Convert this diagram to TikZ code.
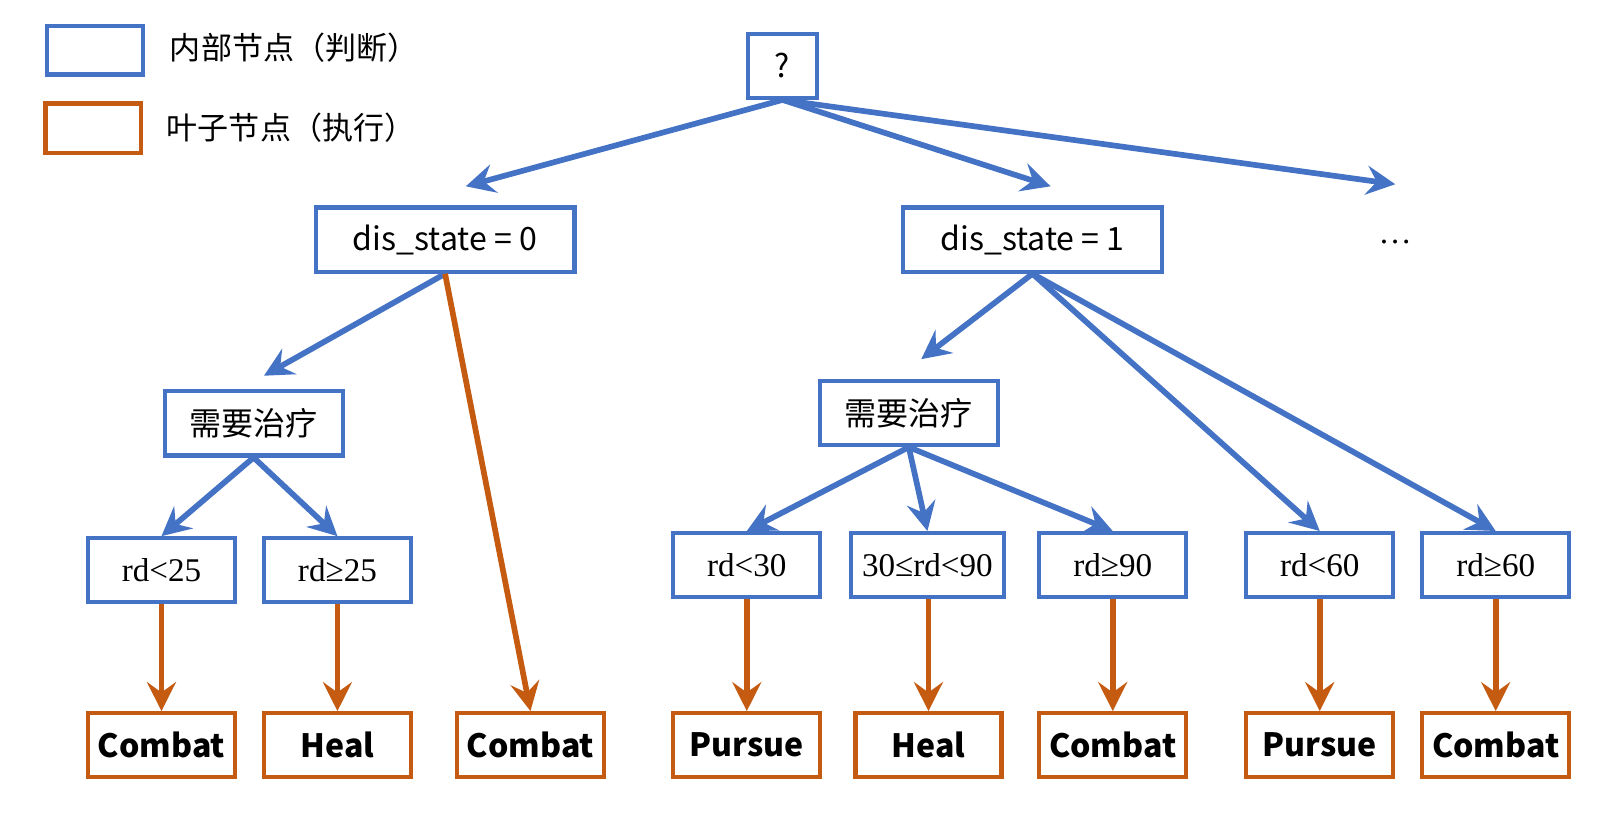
\documentclass[tikz,border=0pt]{standalone}
\usepackage{fontspec}
\setmainfont{Liberation Serif}
\newfontfamily\cjk{Noto Sans CJK SC}
\usetikzlibrary{arrows.meta}
\definecolor{nblue}{HTML}{4472C4}
\definecolor{norange}{HTML}{C55A11}
\begin{document}
\begin{tikzpicture}[x=1pt,y=-1pt,
  innerbox/.style={draw=nblue,line width=4pt,minimum height=62pt,inner sep=0pt},
  leafbox/.style={draw=norange,line width=4pt,minimum width=142pt,minimum height=62pt,inner sep=0pt,font=\cjk\bfseries\fontsize{31}{36}\selectfont},
  sanstxt/.style={font=\cjk\fontsize{31}{36}\selectfont},
  sertxt/.style={font=\fontsize{32}{36}\selectfont},
  legtxt/.style={font=\cjk\fontsize{30}{36}\selectfont,anchor=west,inner sep=0pt},
  barrow/.style={draw=nblue,line width=5.5pt,-{Stealth[length=28pt,width=28pt,inset=10pt]}},
  oarrow/.style={draw=norange,line width=5.5pt,-{Stealth[length=28pt,width=28pt,inset=10pt]}}]
\useasboundingbox (0,0) rectangle (1568,786);

% legend
\node[draw=nblue,line width=4pt,minimum width=93pt,minimum height=47pt] (lgi) at (91.5,48.5) {};
\node[draw=norange,line width=4pt,minimum width=92pt,minimum height=48pt] (lgl) at (90,124) {};
\node[legtxt] (lgit) at (164,46) {内部节点（判断）};
\node[legtxt] (lglt) at (161,123) {叶子节点（执行）};

% internal nodes
\node[innerbox,minimum width=66pt,sanstxt] (q) at (756,63.5) {?};
\node[innerbox,minimum width=250pt,sanstxt] (ds0) at (430,231.5) {dis\_state = 0};
\node[innerbox,minimum width=250pt,sanstxt] (ds1) at (997.5,231.5) {dis\_state = 1};
\node[sertxt] (dots) at (1348,234) {…};
\node[innerbox,minimum width=172pt,sanstxt] (hl) at (245,409) {需要治疗};
\node[innerbox,minimum width=172pt,sanstxt] (hr) at (878,399) {需要治疗};

\node[innerbox,minimum width=142pt,sertxt] (r25a) at (156,551) {rd<25};
\node[innerbox,minimum width=142pt,sertxt] (r25b) at (326,551) {rd≥25};
\node[innerbox,minimum width=142pt,sertxt] (r30) at (721.5,546) {rd<30};
\node[innerbox,minimum width=148pt,sertxt] (r3090) at (896,546) {30≤rd<90};
\node[innerbox,minimum width=142pt,sertxt] (r90) at (1075,546) {rd≥90};
\node[innerbox,minimum width=142pt,sertxt] (r60a) at (1275,546) {rd<60};
\node[innerbox,minimum width=142pt,sertxt] (r60b) at (1445,546) {rd≥60};

% leaves
\node[leafbox] (c1) at (156,720) {Combat};
\node[leafbox] (h1) at (326,720) {Heal};
\node[leafbox] (c2) at (512.5,720) {Combat};
\node[leafbox] (p1) at (721.5,720) {Pursue};
\node[leafbox,minimum width=141pt] (h2) at (897,720) {Heal};
\node[leafbox] (c3) at (1075,720) {Combat};
\node[leafbox] (p2) at (1275,720) {Pursue};
\node[leafbox] (c4) at (1445,720) {Combat};

% free ends
\coordinate (e0) at (450,180);
\coordinate (e1) at (1015,180);
\coordinate (e2) at (1348,178);
\coordinate (eh1) at (255,363);
\coordinate (eh2) at (890,347);

% connectors
\draw[barrow] (q.south) -- (e0);
\draw[barrow] (q.south) -- (e1);
\draw[barrow] (q.south) -- (e2);
\draw[barrow] (ds0.south) -- (eh1);
\draw[oarrow] (ds0.south) -- (c2.north);
\draw[barrow] (hl.south) -- (r25a.north);
\draw[barrow] (hl.south) -- (r25b.north);
\draw[barrow] (ds1.south) -- (eh2);
\draw[barrow] (ds1.south) -- (r60a.north);
\draw[barrow] (ds1.south) -- (r60b.north);
\draw[barrow] (hr.south) -- (r30.north);
\draw[barrow] (hr.south) -- (r3090.north);
\draw[barrow] (hr.south) -- (r90.north);
\draw[oarrow] (r25a.south) -- (c1.north);
\draw[oarrow] (r25b.south) -- (h1.north);
\draw[oarrow] (r30.south) -- (p1.north);
\draw[oarrow] (r3090.south -| h2.north) -- (h2.north);
\draw[oarrow] (r90.south) -- (c3.north);
\draw[oarrow] (r60a.south) -- (p2.north);
\draw[oarrow] (r60b.south) -- (c4.north);
\end{tikzpicture}
\end{document}
